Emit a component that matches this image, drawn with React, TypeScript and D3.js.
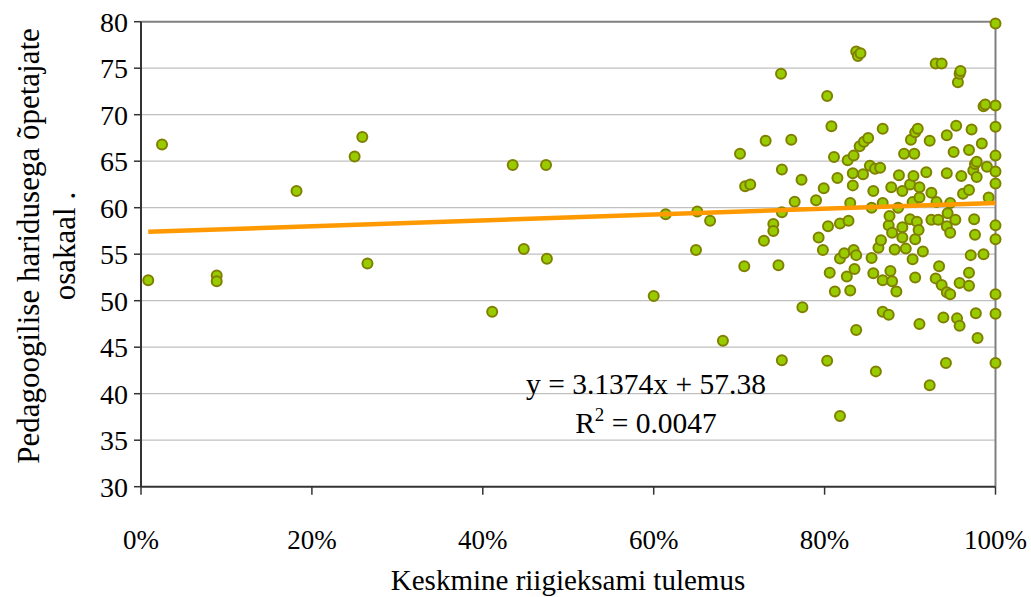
import React from "react";
import * as d3 from "d3";

// Share of teachers with pedagogical education (y) vs average state exam result (x, fraction)
const xValues: number[] = [
  0.0085, 0.0246, 0.0886, 0.0886, 0.182, 0.25, 0.259, 0.265, 0.411, 0.435,
  0.448, 0.474, 0.475, 0.6, 0.614, 0.6495, 0.651, 0.666, 0.681, 0.701,
  0.706, 0.707, 0.713, 0.729, 0.731, 0.74, 0.74, 0.746, 0.749, 0.75,
  0.75, 0.75, 0.761, 0.765, 0.773, 0.774, 0.79, 0.793, 0.798, 0.799,
  0.803, 0.803, 0.804, 0.806, 0.808, 0.811, 0.812, 0.815, 0.818, 0.818,
  0.818, 0.823, 0.826, 0.827, 0.828, 0.83, 0.83, 0.833, 0.833, 0.834,
  0.834, 0.835, 0.837, 0.837, 0.837, 0.839, 0.842, 0.841, 0.845, 0.846,
  0.851, 0.853, 0.855, 0.855, 0.857, 0.857, 0.859, 0.86, 0.863, 0.865,
  0.866, 0.868, 0.868, 0.868, 0.868, 0.875, 0.875, 0.876, 0.877, 0.878,
  0.879, 0.879, 0.882, 0.884, 0.886, 0.887, 0.891, 0.891, 0.891, 0.893,
  0.895, 0.9, 0.9, 0.901, 0.903, 0.903, 0.904, 0.905, 0.906, 0.906,
  0.906, 0.908, 0.909, 0.91, 0.911, 0.911, 0.911, 0.915, 0.919, 0.923,
  0.923, 0.925, 0.925, 0.93, 0.93, 0.931, 0.933, 0.934, 0.937, 0.937,
  0.939, 0.942, 0.943, 0.943, 0.943, 0.943, 0.944, 0.947, 0.947, 0.947,
  0.951, 0.953, 0.954, 0.955, 0.956, 0.958, 0.959, 0.958, 0.958, 0.96,
  0.962, 0.969, 0.969, 0.969, 0.969, 0.971, 0.972, 0.974, 0.975, 0.976,
  0.976, 0.977, 0.978, 0.978, 0.979, 0.984, 0.986, 0.986, 0.988, 0.99,
  0.992, 1.0, 1.0, 1.0, 1.0, 1.0, 1.0, 1.0, 1.0, 1.0, 1.0, 1.0,
];
const yValues: number[] = [
  52.2, 66.8, 52.7, 52.1, 61.8, 65.5, 67.6, 54.0, 48.8, 64.6,
  55.56, 64.6, 54.5, 50.5, 59.3, 55.45, 59.6, 58.6, 45.7, 65.8,
  53.7, 62.3, 62.5, 56.45, 67.2, 58.25, 57.5, 53.8, 74.4, 64.1,
  59.5, 43.6, 67.3, 60.65, 63.0, 49.3, 60.8, 56.8, 55.45, 62.1,
  72.0, 43.55, 58.0, 53.0, 68.75, 65.45, 51.0, 63.2, 58.3, 54.55,
  37.6, 55.1, 52.6, 65.1, 58.6, 60.5, 51.1, 63.7, 62.4, 65.6,
  55.45, 53.4, 54.9, 46.85, 76.8, 76.3, 76.6, 66.6, 63.6, 67.1,
  67.5, 64.5, 60.0, 54.6, 61.8, 52.95, 64.2, 42.4, 55.7, 64.3,
  56.5, 68.5, 60.5, 52.2, 48.8, 48.5, 58.1, 59.1, 53.2, 62.2,
  57.3, 52.1, 55.5, 51.0, 60.0, 63.5, 61.8, 57.9, 56.8, 65.8,
  55.6, 62.5, 58.75, 67.3, 60.6, 54.45, 63.4, 65.8, 68.1, 56.6,
  52.5, 58.5, 68.5, 57.6, 62.2, 61.1, 47.5, 55.3, 63.8, 67.2,
  40.9, 61.6, 58.7, 75.5, 52.4, 60.6, 58.7, 53.7, 75.5, 51.7,
  48.2, 43.3, 67.8, 63.7, 58.0, 50.9, 59.4, 60.5, 57.3, 50.7,
  66.0, 58.7, 68.8, 48.1, 73.5, 74.4, 74.7, 51.9, 47.3, 63.4,
  61.5, 66.2, 61.9, 53.0, 51.6, 54.9, 68.4, 64.0, 58.75, 64.7,
  57.1, 48.65, 64.95, 63.3, 46.0, 66.9, 70.9, 55.0, 71.1, 64.4,
  61.1, 79.8, 71.0, 68.7, 65.6, 63.9, 62.6, 58.1, 56.6, 50.7, 48.6, 43.3,
];

const yTicks: number[] = [30, 35, 40, 45, 50, 55, 60, 65, 70, 75, 80];
const xTicks: number[] = [0, 0.2, 0.4, 0.6, 0.8, 1.0];
const trendSlope = 3.1374;
const trendIntercept = 57.38;
const equationLabel = "y = 3.1374x + 57.38";
const r2Value = "0.0047";
const xTitle = "Keskmine riigieksami tulemus";
const yTitleLines: string[] = ["Pedagoogilise haridusega õpetajate", "osakaal ."];

const W = 1031;
const H = 597;
const plot = { left: 141, right: 995.5, top: 21.7, bottom: 486.7 };
const FONT = "'Liberation Serif', 'Times New Roman', serif";

export default function App() {
  const x = d3.scaleLinear().domain([0, 1]).range([plot.left, plot.right]);
  const y = d3.scaleLinear().domain([30, 80]).range([plot.bottom, plot.top]);
  const fmt = d3.format(".0%");

  const xmin = d3.min(xValues) as number;
  const xmax = d3.max(xValues) as number;
  const line = d3
    .line<number>()
    .x((d) => x(d))
    .y((d) => y(trendSlope * d + trendIntercept));
  const trendPath = line([xmin, xmax]) || "";

  return (
    <svg
      width={W}
      height={H}
      style={{ position: "absolute", left: 0, top: 0, background: "#fff" }}
      fontFamily={FONT}
    >
      <rect x={0} y={0} width={W} height={H} fill="#fff" />
      {/* gridlines */}
      {yTicks
        .filter((t) => t > 30 && t < 80)
        .map((t) => (
          <line
            key={"g" + t}
            x1={plot.left}
            x2={plot.right}
            y1={y(t)}
            y2={y(t)}
            stroke="#c0c0c0"
            strokeWidth={1.2}
          />
        ))}
      {/* top & right border */}
      <line x1={plot.left} x2={plot.right} y1={y(80)} y2={y(80)} stroke="#808080" strokeWidth={2} />
      <line x1={plot.right} x2={plot.right} y1={plot.top} y2={plot.bottom} stroke="#808080" strokeWidth={2} />
      {/* axes */}
      <line x1={plot.left} x2={plot.left} y1={plot.top} y2={plot.bottom} stroke="#333" strokeWidth={2} />
      <line x1={plot.left} x2={plot.right} y1={plot.bottom} y2={plot.bottom} stroke="#333" strokeWidth={2} />
      {yTicks.map((t) => (
        <g key={"yt" + t}>
          <line x1={plot.left - 7} x2={plot.left} y1={y(t)} y2={y(t)} stroke="#333" strokeWidth={1.5} />
          <text x={plot.left - 13} y={y(t)} dy="0.35em" textAnchor="end" fontSize={28} fill="#000">
            {t}
          </text>
        </g>
      ))}
      {xTicks.map((t) => (
        <g key={"xt" + t}>
          <line x1={x(t)} x2={x(t)} y1={plot.bottom} y2={plot.bottom + 8} stroke="#333" strokeWidth={1.5} />
          <text x={x(t)} y={549} textAnchor="middle" fontSize={27} fill="#000">
            {fmt(t)}
          </text>
        </g>
      ))}
      {/* points */}
      {xValues.map((xv, i) => (
        <circle
          key={"p" + i}
          cx={x(xv)}
          cy={y(yValues[i])}
          r={5}
          fill="#99cc00"
          stroke="#808000"
          strokeWidth={2}
        />
      ))}
      {/* trendline */}
      <path d={trendPath} stroke="#ff9900" strokeWidth={4.5} fill="none" />
      {/* equation */}
      <text x={646} y={394} textAnchor="middle" fontSize={29.5} fill="#000">
        {equationLabel}
      </text>
      <text x={646} y={433} textAnchor="middle" fontSize={29.5} fill="#000">
        R<tspan dy={-12} fontSize={19}>2</tspan>
        <tspan dy={12}> = {r2Value}</tspan>
      </text>
      {/* axis titles */}
      <text x={568} y={590} textAnchor="middle" fontSize={29} fill="#000">
        {xTitle}
      </text>
      <text transform="translate(39,246) rotate(-90)" textAnchor="middle" fontSize={31} fill="#000">
        {yTitleLines[0]}
      </text>
      <text transform="translate(75,246) rotate(-90)" textAnchor="middle" fontSize={31} fill="#000">
        {yTitleLines[1]}
      </text>
    </svg>
  );
}
